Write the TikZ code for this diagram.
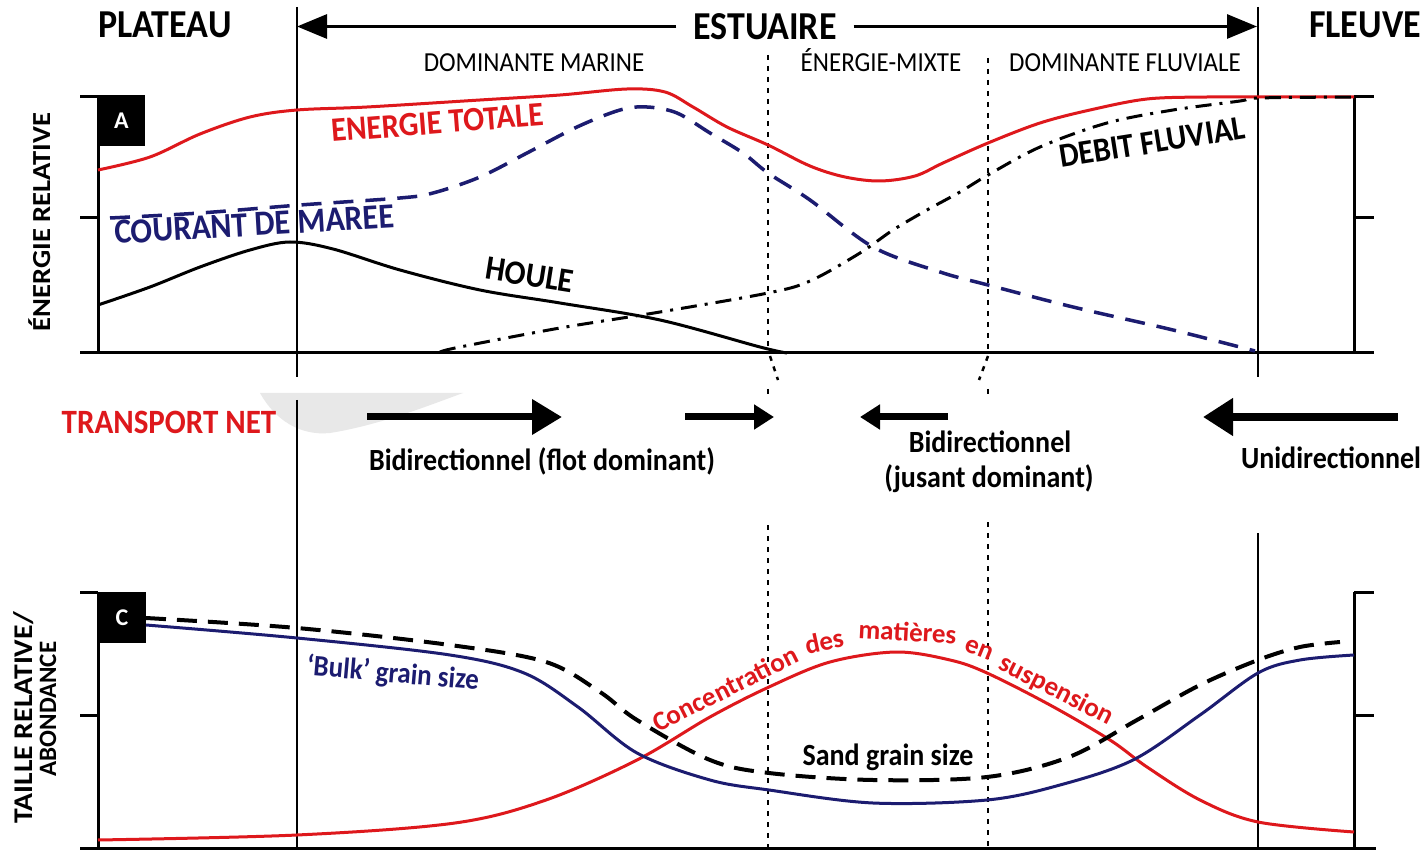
\documentclass[tikz,border=0pt]{standalone}
\usepackage{fontspec}
\setmainfont{Carlito}
\usepackage{graphicx}
\usetikzlibrary{arrows.meta}
\definecolor{myred}{RGB}{222,24,28}
\definecolor{mynavy}{RGB}{28,28,112}
\newcommand{\myfs}[1]{\fontsize{#1}{#1}\selectfont}
\newcommand{\vst}[1]{\scalebox{1}[1.1]{#1}}
\newcommand{\hst}[1]{\scalebox{1.1}[1]{#1}}
\begin{document}
\begin{tikzpicture}[x=1pt,y=-1pt,
  axis/.style={line width=3pt},
  vline/.style={line width=2.5pt},
  dotline/.style={line width=2.5pt, dash pattern=on 5pt off 6pt},
  lbl/.style={inner sep=0pt, outer sep=0pt, font=\bfseries},
  lblr/.style={inner sep=0pt, outer sep=0pt},
  conc/.style={inner sep=0pt, outer sep=0pt, font=\bfseries, text=myred, anchor=base},
  topcurve/.style={line width=3pt, line join=round},
  bigarrow/.style={line width=3pt, -{Triangle[length=30pt,width=24pt]}},
  boxlbl/.style={fill=black, text=white, font=\bfseries, inner sep=0pt, minimum width=47pt, minimum height=51pt},
]
\useasboundingbox (0,0) rectangle (1428,850);
\fill[white] (0,0) rectangle (1428,850);

% grey blob
\fill[gray!18] (260,393) -- (463,393) .. controls (430,405) and (380,425) .. (330,433) .. controls (300,436) and (275,420) .. (260,393);

% header
\node[lbl, anchor=base] (plat) at (165,38) {\vst{\myfs{36}PLATEAU}};
\node[lbl, anchor=base] (fleu) at (1365,38) {\vst{\myfs{36}FLEUVE}};
\node[lbl, inner xsep=17pt] (est) at (765,26.5) {\vst{\myfs{36}ESTUAIRE}};
\coordinate (ltip) at (297,26.5);
\coordinate (rtip) at (1257,26.5);
\draw[bigarrow] (est) -- (ltip);
\draw[bigarrow] (est) -- (rtip);

\node[lblr, anchor=base] (dm) at (534,72) {\vst{\myfs{25}DOMINANTE MARINE}};
\node[lblr, anchor=base] (em) at (881,72) {\vst{\myfs{25}ÉNERGIE-MIXTE}};
\node[lblr, anchor=base] (df) at (1125,72) {\vst{\myfs{25}DOMINANTE FLUVIALE}};

% vertical solid lines
\coordinate (v1a) at (297,7); \coordinate (v1b) at (297,377);
\coordinate (v1c) at (297,400); \coordinate (v1d) at (297,850);
\coordinate (v2a) at (1258,7); \coordinate (v2b) at (1258,377);
\coordinate (v2c) at (1258,533); \coordinate (v2d) at (1258,850);
\draw[vline] (v1a) -- (v1b); \draw[vline] (v1c) -- (v1d);
\draw[vline] (v2a) -- (v2b); \draw[vline] (v2c) -- (v2d);

% dotted lines
\draw[dotline] (768,55) -- (768,353);
\draw[dotline] (988,58) -- (988,353);
\draw[dotline] (770,356) -- (778,380);
\draw[dotline] (768,389) -- (768,399);
\draw[dotline] (988,356) -- (979,380);
\draw[dotline] (988,389) -- (988,399);
\draw[dotline] (768,525) -- (768,848);
\draw[dotline] (988,522) -- (988,848);

% top axes
\draw[axis] (98,97) -- (98,353);
\draw[axis] (80,97) -- (98,97);
\draw[axis] (80,218) -- (98,218);
\draw[axis] (80,353) -- (1374,353);
\draw[axis] (1354,97) -- (1354,353);
\draw[axis] (1354,97) -- (1374,97);
\draw[axis] (1354,218) -- (1374,218);

% bottom axes
\draw[axis] (98,592) -- (98,848);
\draw[axis] (80,592) -- (98,592);
\draw[axis] (80,715) -- (98,715);
\draw[axis] (80,848) -- (1376,848);
\draw[axis] (1354,592) -- (1354,848);
\draw[axis] (1354,592) -- (1374,592);
\draw[axis] (1354,715) -- (1374,715);

% boxes
\node[boxlbl] (boxA) at (121.5,120.5) {\myfs{24}A};
\node[boxlbl] (boxC) at (122,617.5) {\myfs{24}C};

% y labels
\node[lbl, rotate=90, anchor=base] (yl1) at (50,222) {\hst{\myfs{26}ÉNERGIE RELATIVE}};
\node[lbl, rotate=90, anchor=base] (yl2) at (32,718) {\hst{\myfs{27}TAILLE RELATIVE/}};
\node[lbl, rotate=90, anchor=base] (yl3) at (56,709) {\myfs{25}ABONDANCE};

% top labels
\node[lbl, text=myred, anchor=base west, rotate=4.5] (et) at (332,142) {\vst{\myfs{31}ENERGIE TOTALE}};
\node[lbl, text=mynavy, anchor=base west, rotate=3.4] (cm) at (115,244) {\vst{\myfs{32}COURANT DE MAREE}};
\node[lbl, anchor=base west, rotate=-9] (ho) at (484,279) {\vst{\myfs{31}HOULE}};
\node[lbl, anchor=base west, rotate=9] (db) at (1061,168) {\vst{\myfs{31}DEBIT FLUVIAL}};

% top curves
\draw[topcurve, myred] plot[smooth, tension=0.55] coordinates {(98,170) (150,157) (200,134) (250,117) (297,110) (367,107) (480,100) (560,95) (627,89) (665,92) (693,107) (727,127) (768,145) (810,166) (845,177) (880,181) (915,176) (943,163) (988,143) (1040,123) (1090,110) (1147,99) (1207,97) (1258,97) (1354,97)};
\draw[topcurve, mynavy, line width=3.5pt, dash pattern=on 20pt off 12pt] plot[smooth, tension=0.55] coordinates {(110,218) (200,213) (300,205) (400,198) (433,193) (480,177) (527,153) (577,127) (620,110) (647,107) (677,113) (710,133) (743,153) (768,173) (810,200) (873,247) (940,272) (988,285) (1073,307) (1173,330) (1255,351)};
\draw[topcurve, black] plot[smooth, tension=0.55] coordinates {(98,305) (150,287) (200,267) (250,250) (290,242) (333,249) (400,270) (480,290) (560,303) (660,320) (760,347) (787,353)};
\draw[topcurve, black, dash pattern=on 16pt off 8pt on 3pt off 8pt] plot[smooth, tension=0.55] coordinates {(440,352) (460,347) (560,328) (660,312) (768,293) (810,281) (860,253) (893,230) (927,210) (960,192) (988,175) (1040,147) (1107,123) (1173,110) (1240,101) (1258,98) (1354,97)};

% transport net
\node[lbl, text=myred, anchor=base] (tn) at (169,433) {\vst{\myfs{31}TRANSPORT NET}};
\coordinate (a1s) at (367,417); \coordinate (a1e) at (562,417);
\coordinate (a2s) at (685,417); \coordinate (a2e) at (774,417);
\coordinate (a3s) at (948,417); \coordinate (a3e) at (860,417);
\coordinate (a4s) at (1398,417); \coordinate (a4e) at (1203,417);
\draw[line width=7pt, -{Triangle[length=30pt,width=34pt]}] (a1s) -- (a1e);
\draw[line width=7pt, -{Triangle[length=20pt,width=24pt]}] (a2s) -- (a2e);
\draw[line width=7pt, -{Triangle[length=20pt,width=24pt]}] (a3s) -- (a3e);
\draw[line width=8pt, -{Triangle[length=30pt,width=36pt]}] (a4s) -- (a4e);
\node[lbl, anchor=base] (b1) at (542,470) {\vst{\myfs{28}Bidirectionnel (flot dominant)}};
\node[lbl, anchor=base] (b2) at (990,452) {\vst{\myfs{28}Bidirectionnel}};
\node[lbl, anchor=base] (b3) at (989,487) {\vst{\myfs{28}(jusant dominant)}};
\node[lbl, anchor=base] (u1) at (1331,468) {\vst{\myfs{28}Unidirectionnel}};

% bottom labels
\node[lbl, text=mynavy, anchor=base west, rotate=-5] (bk) at (306,675) {\vst{\myfs{27}‘Bulk’ grain size}};
\node[lbl, anchor=base] (sg) at (888,765) {\vst{\myfs{28}Sand grain size}};

% bottom curves
\draw[line width=3pt, myred] plot[smooth, tension=0.55] coordinates {(98,840) (297,835) (455,823) (546,800) (637,760) (710,717) (769,687) (830,662) (896,652) (950,660) (987,673) (1050,705) (1110,740) (1147,767) (1200,800) (1258,822) (1354,832)};
\draw[line width=3pt, mynavy] plot[smooth, tension=0.55] coordinates {(146,625) (297,638) (450,655) (524,673) (578,707) (637,753) (710,780) (769,790) (873,803) (987,800) (1060,785) (1133,760) (1200,715) (1258,673) (1300,660) (1354,655)};
\draw[line width=4pt, black, dash pattern=on 20pt off 11pt] plot[smooth, tension=0.55] coordinates {(146,618) (297,628) (450,645) (546,662) (600,692) (637,720) (710,760) (769,773) (873,780) (987,777) (1069,757) (1137,720) (1200,685) (1258,660) (1300,647) (1340,642)};

% concentration label along the red curve
\node[conc, rotate=26.6] (cc1) at (729,697) {\myfs{27}Concentration};
\node[conc, rotate=12] (cc2) at (826,650) {\myfs{27}des};
\node[conc, rotate=-3] (cc3) at (907,641) {\myfs{27}matières};
\node[conc, rotate=-22] (cc4) at (977,656) {\myfs{27}en};
\node[conc, rotate=-27] (cc5) at (1053,697) {\myfs{27}suspension};
\end{tikzpicture}
\end{document}
